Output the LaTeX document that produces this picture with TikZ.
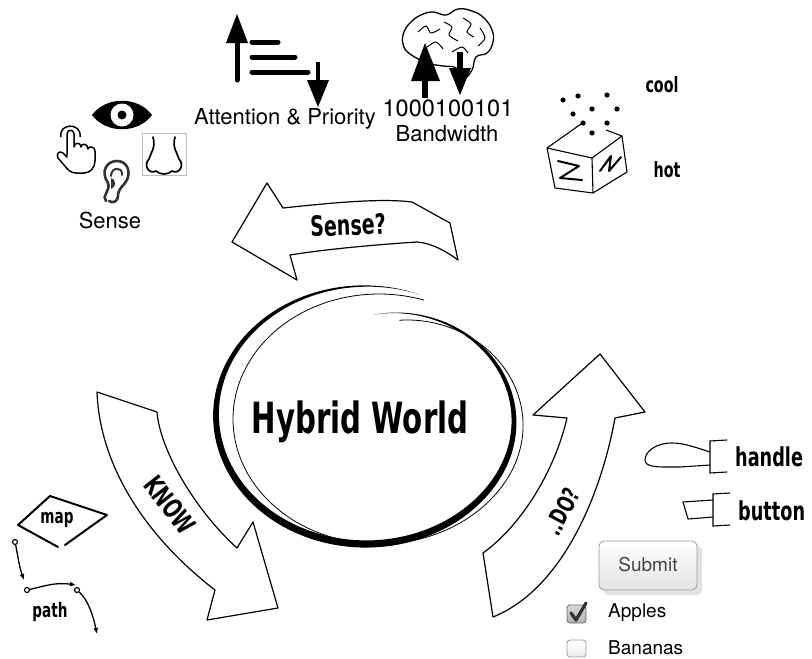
\documentclass[tikz,border=0pt]{standalone}
\usepackage{fontspec}
\setmainfont{TeX Gyre Heros}
\newfontfamily\handfont{DejaVu Sans}[FakeStretch=0.68]
\usetikzlibrary{arrows.meta,scopes}

\definecolor{uiline}{HTML}{9A9A9A}
\definecolor{uitext}{HTML}{444444}
\definecolor{earcol}{HTML}{333333}

\begin{document}
\begin{tikzpicture}[x=1pt,y=-1pt,
    sketch/.style={draw=black,line width=1.2pt,line join=round},
    bigarrow/.style={sketch,fill=white},
    bar/.style={line width=5pt,line cap=round},
    icon/.style={line width=1.7pt,line join=round,line cap=round},
    sans/.style={font=\fontsize{22}{24}\selectfont},
    hand/.style={font=\handfont\bfseries\fontsize{#1}{#1}\selectfont,inner sep=0pt},
    dot/.style={circle,draw,line width=1.2pt,inner sep=0pt,minimum size=5pt,fill=white},
    declare function={
        sm(\x)=max(0,\x-330)/116;
        sf(\x)=1-0.22*sm(\x)*sm(\x);
        sw(\x)=3.6*sin((\x-69)*0.4775);
    },
    ]
\useasboundingbox (0,0) rectangle (812,659);

%% Attention & Priority
\draw[bar] (237,80) -- (237,38);
\fill (226,43) -- (237,14) -- (248,43) -- cycle;
\draw[bar] (252,42) -- (278,42);
\draw[bar] (252,57) -- (295,57);
\draw[bar] (252,72) -- (308,72);
\draw[line width=4pt] (318,62) -- (318,84);
\fill (307,80) -- (329,80) -- (318,107) -- cycle;
\node[sans] (attn) at (285,119) {Attention \& Priority};

%% Bandwidth: brain with two arrows
\draw[line width=1.3pt] plot[smooth cycle,tension=0.75] coordinates {
    (410,54) (403,44) (404,32) (411,22) (421,15) (433,12) (446,15)
    (458,9) (472,11) (484,18) (492,30) (493,42) (487,53) (476,57)
    (472,70) (463,79) (456,68) (443,66) (428,63)};
\draw[line width=1pt] plot[smooth] coordinates {(418,32) (426,26) (431,33) (440,29)};
\draw[line width=1pt] plot[smooth] coordinates {(444,22) (452,27) (449,35) (458,41)};
\draw[line width=1pt] plot[smooth] coordinates {(463,18) (471,24) (467,32) (474,37)};
\draw[line width=1pt] plot[smooth] coordinates {(480,28) (485,38) (478,46)};
\draw[line width=1pt] plot[smooth] coordinates {(427,47) (436,42) (443,49)};
\draw[line width=1pt] plot[smooth] coordinates {(452,52) (462,47) (468,53)};
\fill (411,81) -- (425,43) -- (440,81) -- cycle;
\fill (422,80) rectangle (428,98);
\fill (457,52) rectangle (463,70);
\fill (449,68) -- (471,68) -- (460,95) -- cycle;
\node[font=\fontsize{23.5}{24}\selectfont] (bits) at (448,108) {1000100101};
\node[sans] (bw) at (447,134) {Bandwidth};

%% Senses
% eye
\fill (92,115) .. controls (106,96) and (138,96) .. (152,115)
    .. controls (138,134) and (106,134) .. (92,115) -- cycle;
\fill[white] (122,115) circle (11.5pt);
\fill (122,115) circle (4.5pt);
% pointing hand
\draw[icon,line width=1.5pt] (67,155) -- (67,134) .. controls (67,129) and (74,129) .. (74,134)
    -- (74,147) .. controls (74,142) and (81,142) .. (81,147)
    .. controls (81,143) and (88,143) .. (88,149)
    .. controls (88,146) and (95,146) .. (95,151) -- (95,161)
    .. controls (95,168) and (90,173) .. (84,173) -- (76,173)
    .. controls (71,173) and (68,170) .. (64,165) -- (58,158)
    .. controls (56,154) and (59,150) .. (63,153) -- (67,157);
\draw[line width=1.5pt] (61,137) .. controls (58,123) and (82,122) .. (80,137);
% ear
\draw[icon,draw=earcol,line width=2.6pt] (106,201) .. controls (101,197) and (111,190) .. (108,183)
    .. controls (100,171) and (107,161) .. (117,161)
    .. controls (127,161) and (131,171) .. (127,180)
    .. controls (124,186) and (118,188) .. (118,196)
    .. controls (118,201) and (113,204) .. (109,201);
\draw[icon,draw=earcol,line width=2pt] (111,176) .. controls (111,167) and (123,166) .. (122,175);
\fill[earcol] (111,178) .. controls (116,179) and (117,187) .. (111,189) -- cycle;
% nose
\draw[draw=gray!50,line width=0.6pt] (142,133) rectangle (186,175);
\draw[icon] (153,137) .. controls (156,148) and (151,152) .. (149,159)
    .. controls (143,165) and (149,175) .. (156,171)
    .. controls (160,175) and (168,175) .. (172,171)
    .. controls (179,175) and (185,165) .. (179,159)
    .. controls (177,152) and (172,148) .. (175,137);
\node[sans] (sense) at (110,220) {Sense};

%% cool / hot: cube under falling dots
\foreach \p in {(563,100),(578,96),(607,95),(573,114),(592,109),(617,109),(583,123),(607,123),(592,133)}
    \fill \p circle (2.6pt);
\draw[sketch,line width=1.1pt] (547,148) -- (592,158) -- (593,193) -- (555,188) -- cycle;
\draw[sketch,line width=1.1pt] (592,158) -- (622,136) -- (627,172) -- (593,193);
\draw[sketch,line width=1.1pt] (547,148) -- (581,124);
\draw[sketch,line width=1.1pt] (606,130) -- (622,136);
\draw[icon,line width=2pt] (558,161) -- (579,166) -- (560,178) -- (582,180);
\draw[icon,line width=2pt] (600,171) -- (611,156) -- (609,171) -- (621,157);
\node[hand=21] (cool) at (662,85) {cool};
\node[hand=21] (hot) at (667,170) {hot};

%% the three loop arrows
\draw[bigarrow] (232,242) -- (267,183) -- (283,208)
    .. controls (330,203) and (380,198) .. (412,202) -- (450,223) -- (458,260)
    .. controls (446,251) and (431,243) .. (417,242)
    .. controls (370,245) and (320,250) .. (290,255) -- (297,280) -- cycle;
\node[hand=28,rotate=2] (senseq) at (348,225) {Sense?};

\draw[bigarrow] (97,392) -- (157,412)
    .. controls (160,450) and (195,510) .. (237,548) -- (253,522) -- (278,608)
    -- (207,620) -- (215,590)
    .. controls (150,540) and (100,470) .. (97,392) -- cycle;
\node[hand=27,rotate=-52] (know) at (170,505) {KNOW};

\draw[bigarrow] (483,553) .. controls (522,525) and (555,470) .. (567,418)
    -- (533,415) -- (600,354) -- (645,412) -- (615,418)
    .. controls (600,500) and (560,590) .. (493,617) -- cycle;
\node[hand=24,rotate=62] (doq) at (562,512) {..DO?};

%% Hybrid World: brushed spiral
\fill plot[domain=69:446,samples=160] ({366+(150*sf(\x)+sw(\x))*cos(\x)},{415-(129*sf(\x)+sw(\x))*sin(\x)})
    -- plot[domain=446:69,samples=160] ({366+(150*sf(\x)-sw(\x))*cos(\x)},{415-(129*sf(\x)-sw(\x))*sin(\x)})
    -- cycle;
\draw[line width=0.8pt] plot[domain=72:440,samples=160,smooth]
    ({379+146*sf(\x)*cos(\x)},{419-125*sf(\x)*sin(\x)});
\node[hand=43] (hw) at (360,422) {Hybrid World};

%% map and path
\draw[icon,line width=2pt] (65,545) -- (107,515) -- (50,496) -- (18,525) -- (58,547);
\node[hand=20] (map) at (57,520) {map};
\node[dot] (p1) at (15,542) {};
\node[dot] (p2) at (27,590) {};
\node[dot] (p3) at (77,590) {};
\coordinate (e1) at (24,580);
\coordinate (e2) at (76,585);
\coordinate (e3) at (97,634);
{[-{Latex[length=6pt,width=5pt]},line width=1.3pt]
    \draw (p1) .. controls (18,556) and (19,566) .. (e1);
    \draw (p2) .. controls (45,586) and (55,582) .. (e2);
    \draw (p3) .. controls (88,600) and (93,615) .. (e3);
}
\node[hand=20] (path) at (50,612) {path};

%% handle and button
\draw[line width=1.1pt] (710,452) .. controls (692,446) and (682,443) .. (672,443)
    .. controls (655,443) and (645,452) .. (645,460)
    .. controls (645,468) and (660,467) .. (680,467) -- (710,465);
\draw[line width=1.1pt] (727,440) -- (710,441) -- (710,473) -- (727,472);
\node[hand=26,anchor=west] (handle) at (735,457) {handle};
\draw[line width=1.1pt] (713,500) -- (683,502) -- (688,519) -- (713,517);
\draw[line width=1.1pt] (730,493) -- (713,494) -- (713,526) -- (730,525);
\node[hand=26,anchor=west] (button) at (738,511) {button};

%% form widgets
\fill[gray!22,rounded corners=5pt] (603,545) rectangle (702,595);
\shade[top color=white,bottom color=gray!22,draw=uiline,line width=0.8pt,rounded corners=5pt]
    (599,541) rectangle (697,590);
\node[text=uitext,font=\fontsize{19}{20}\selectfont] (submit) at (648,565) {Submit};

\shade[top color=gray!30,bottom color=gray!60,draw=gray!80!black,line width=0.8pt,rounded corners=3pt]
    (567,605) rectangle (586,623);
\draw[line width=3.2pt,draw=earcol,line cap=round,line join=round] (571,613) -- (576,620) -- (586,603);
\node[font=\fontsize{19}{20}\selectfont,anchor=west,inner sep=1pt] (apples) at (607,613) {Apples};

\shade[top color=white,bottom color=gray!15,draw=uiline,line width=0.8pt,rounded corners=3pt]
    (567,640) rectangle (586,657);
\node[font=\fontsize{19}{20}\selectfont,anchor=west,inner sep=1pt] (bananas) at (607,648) {Bananas};
\end{tikzpicture}
\end{document}
